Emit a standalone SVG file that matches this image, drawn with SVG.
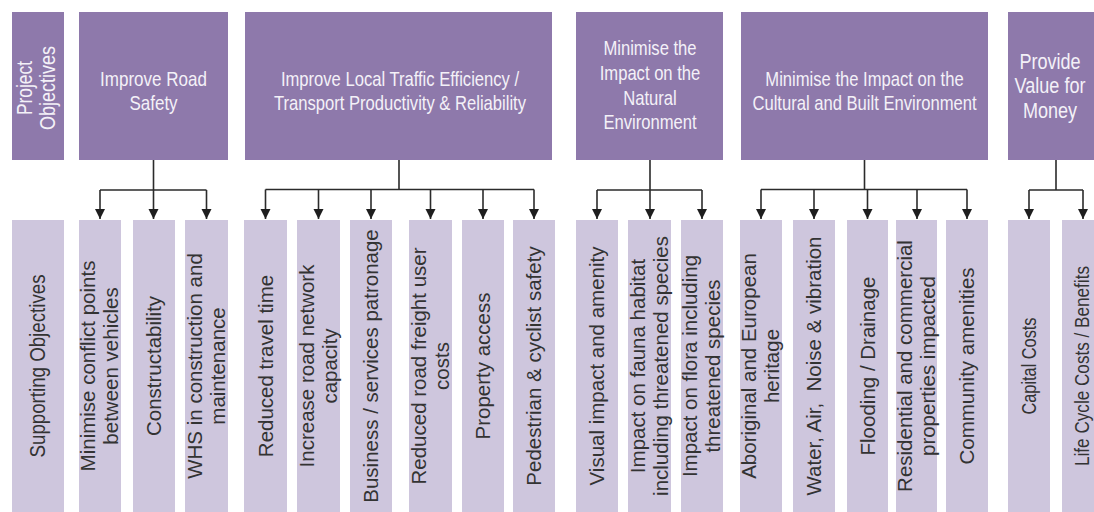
<svg xmlns="http://www.w3.org/2000/svg" width="1094" height="512" viewBox="0 0 1094 512">
  <defs>
    <style>
      .obj { fill: #8E79AB; }
      .sup { fill: #CEC6DD; }
      .t-obj { font-family: "Liberation Sans", Arial, sans-serif; font-size: 20.5px; fill: #F4F1F8; text-anchor: middle; }
      .t-big { font-size: 21.5px; }
      .t-sup { font-family: "Liberation Sans", Arial, sans-serif; font-size: 20.5px; fill: #333333; text-anchor: middle; }
      .t-head { font-size: 22px; }
      .wire { fill: none; stroke: #2B2B2B; stroke-width: 1.6; }
      .pre { white-space: pre; }
    </style>
    <marker id="head" viewBox="0 0 10 10" refX="10" refY="5" markerWidth="10" markerHeight="12" markerUnits="userSpaceOnUse" orient="auto">
      <path d="M0,0 L10,5 L0,10 Z" fill="#1E1E1E"/>
    </marker>
  </defs>

  <rect width="1094" height="512" fill="#FFFFFF"/>

  <!-- project objectives (top row) -->
  <g id="project-objectives">
    <rect class="obj" x="12" y="12" width="52" height="148"/>
    <text class="t-obj t-head" transform="translate(32 88) rotate(-90)" textLength="54" lengthAdjust="spacingAndGlyphs">Project</text>
    <text class="t-obj t-head" transform="translate(55 88) rotate(-90)" textLength="84" lengthAdjust="spacingAndGlyphs">Objectives</text>
  </g>

  <g id="road-safety">
    <rect class="obj" x="79" y="12" width="149" height="148"/>
    <text class="t-obj" transform="translate(153.5 85.7) scale(.83 1)">Improve Road</text>
    <text class="t-obj" transform="translate(153.5 110) scale(.83 1)">Safety</text>
  </g>

  <g id="traffic-efficiency">
    <rect class="obj" x="245" y="12" width="307" height="148"/>
    <text class="t-obj" transform="translate(400 85.7) scale(.81 1)">Improve Local Traffic Efficiency /</text>
    <text class="t-obj" transform="translate(400 110) scale(.81 1)">Transport Productivity &amp; Reliability</text>
  </g>

  <g id="natural-environment">
    <rect class="obj" x="576" y="12" width="147" height="148"/>
    <text class="t-obj" transform="translate(650 55) scale(.81 1)">Minimise the</text>
    <text class="t-obj" transform="translate(650 80) scale(.81 1)">Impact on the</text>
    <text class="t-obj" transform="translate(650 105) scale(.81 1)">Natural</text>
    <text class="t-obj" transform="translate(650 129) scale(.81 1)">Environment</text>
  </g>

  <g id="built-environment">
    <rect class="obj" x="741" y="12" width="247" height="148"/>
    <text class="t-obj" transform="translate(864.5 85.7) scale(.81 1)">Minimise the Impact on the</text>
    <text class="t-obj" transform="translate(864.5 110) scale(.81 1)">Cultural and Built Environment</text>
  </g>

  <g id="value-for-money">
    <rect class="obj" x="1008" y="12" width="96" height="148"/>
    <text class="t-obj t-big" transform="translate(1050 68.5) scale(.84 1)">Provide</text>
    <text class="t-obj t-big" transform="translate(1050 93) scale(.84 1)">Value for</text>
    <text class="t-obj t-big" transform="translate(1050 117.5) scale(.84 1)">Money</text>
  </g>

  <!-- supporting objectives (bottom row) -->
  <g id="supporting-objectives">
    <rect class="sup" x="12" y="220" width="52" height="292"/>
    <text class="t-sup t-head" transform="translate(45 366) rotate(-90)" textLength="183" lengthAdjust="spacingAndGlyphs">Supporting Objectives</text>
  </g>

  <g id="conflict-points">
    <rect class="sup" x="79" y="220" width="42" height="292"/>
    <text class="t-sup" transform="translate(95 366) rotate(-90)"><tspan x="0" y="0">Minimise conflict points</tspan><tspan x="0" y="23">between vehicles</tspan></text>
  </g>

  <g id="constructability">
    <rect class="sup" x="133" y="220" width="42" height="292"/>
    <text class="t-sup" transform="translate(161 366) rotate(-90)">Constructability</text>
  </g>

  <g id="whs">
    <rect class="sup" x="185" y="220" width="43" height="292"/>
    <text class="t-sup" transform="translate(201.5 366) rotate(-90)"><tspan x="0" y="0">WHS in construction and</tspan><tspan x="0" y="23">maintenance</tspan></text>
  </g>

  <g id="travel-time">
    <rect class="sup" x="244" y="220" width="43" height="292"/>
    <text class="t-sup" transform="translate(273 366) rotate(-90)">Reduced travel time</text>
  </g>

  <g id="network-capacity">
    <rect class="sup" x="297" y="220" width="43" height="292"/>
    <text class="t-sup" transform="translate(313.5 366) rotate(-90)"><tspan x="0" y="0">Increase road network</tspan><tspan x="0" y="23">capacity</tspan></text>
  </g>

  <g id="patronage">
    <rect class="sup" x="350" y="220" width="42" height="292"/>
    <text class="t-sup" transform="translate(378 366) rotate(-90)">Business / services patronage</text>
  </g>

  <g id="freight-costs">
    <rect class="sup" x="409" y="220" width="43" height="292"/>
    <text class="t-sup" transform="translate(425.5 366) rotate(-90)"><tspan x="0" y="0">Reduced road freight user</tspan><tspan x="0" y="23">costs</tspan></text>
  </g>

  <g id="property-access">
    <rect class="sup" x="462" y="220" width="42" height="292"/>
    <text class="t-sup" transform="translate(490 366) rotate(-90)">Property access</text>
  </g>

  <g id="pedestrian-safety">
    <rect class="sup" x="513" y="220" width="42" height="292"/>
    <text class="t-sup" transform="translate(541 366) rotate(-90)">Pedestrian &amp; cyclist safety</text>
  </g>

  <g id="visual-amenity">
    <rect class="sup" x="576" y="220" width="42" height="292"/>
    <text class="t-sup" transform="translate(604 366) rotate(-90)">Visual impact and amenity</text>
  </g>

  <g id="fauna-habitat">
    <rect class="sup" x="628" y="220" width="43" height="292"/>
    <text class="t-sup" transform="translate(644.5 366) rotate(-90)"><tspan x="0" y="0">Impact on fauna habitat</tspan><tspan x="0" y="23">including threatened species</tspan></text>
  </g>

  <g id="flora">
    <rect class="sup" x="681" y="220" width="42" height="292"/>
    <text class="t-sup" transform="translate(697 366) rotate(-90)"><tspan x="0" y="0">Impact on flora including</tspan><tspan x="0" y="23">threatened species</tspan></text>
  </g>

  <g id="heritage">
    <rect class="sup" x="740" y="220" width="42" height="292"/>
    <text class="t-sup" transform="translate(756 366) rotate(-90)"><tspan x="0" y="0">Aboriginal and European</tspan><tspan x="0" y="23">heritage</tspan></text>
  </g>

  <g id="water-air-noise">
    <rect class="sup" x="793" y="220" width="42" height="292"/>
    <text class="t-sup pre" transform="translate(821 366) rotate(-90)">Water, Air,  Noise &amp; vibration</text>
  </g>

  <g id="flooding">
    <rect class="sup" x="847" y="220" width="41" height="292"/>
    <text class="t-sup" transform="translate(874.5 366) rotate(-90)">Flooding / Drainage</text>
  </g>

  <g id="properties-impacted">
    <rect class="sup" x="896" y="220" width="41" height="292"/>
    <text class="t-sup" transform="translate(912 366) rotate(-90)"><tspan x="0" y="0">Residential and commercial</tspan><tspan x="0" y="23">properties impacted</tspan></text>
  </g>

  <g id="community-amenities">
    <rect class="sup" x="946" y="220" width="42" height="292"/>
    <text class="t-sup" transform="translate(974 366) rotate(-90)">Community amenities</text>
  </g>

  <g id="capital-costs">
    <rect class="sup" x="1008" y="220" width="42" height="292"/>
    <text class="t-sup" transform="translate(1036 366) rotate(-90)" textLength="97" lengthAdjust="spacingAndGlyphs">Capital Costs</text>
  </g>

  <g id="life-cycle-costs">
    <rect class="sup" x="1062" y="220" width="42" height="292"/>
    <text class="t-sup" transform="translate(1088.5 366) rotate(-90)" textLength="200" lengthAdjust="spacingAndGlyphs">Life Cycle Costs / Benefits</text>
  </g>

  <!-- connectors: trunk from each objective, a bus line, then a drop to each child -->
  <g id="connectors" class="wire">
    <path d="M153.5,160 V190 M100,190 H206.5"/>
    <path d="M100,190 V219" marker-end="url(#head)"/>
    <path d="M153.5,190 V219" marker-end="url(#head)"/>
    <path d="M206.5,190 V219" marker-end="url(#head)"/>

    <path d="M399,160 V189.5 M265.5,189.5 H534"/>
    <path d="M265.5,189.5 V219" marker-end="url(#head)"/>
    <path d="M318.5,189.5 V219" marker-end="url(#head)"/>
    <path d="M371,189.5 V219" marker-end="url(#head)"/>
    <path d="M430.5,189.5 V219" marker-end="url(#head)"/>
    <path d="M483,189.5 V219" marker-end="url(#head)"/>
    <path d="M534,189.5 V219" marker-end="url(#head)"/>

    <path d="M650,160 V190 M597,190 H702"/>
    <path d="M597,190 V219" marker-end="url(#head)"/>
    <path d="M650,190 V219" marker-end="url(#head)"/>
    <path d="M702,190 V219" marker-end="url(#head)"/>

    <path d="M864.5,160 V189.5 M761,189.5 H967"/>
    <path d="M761,189.5 V219" marker-end="url(#head)"/>
    <path d="M814,189.5 V219" marker-end="url(#head)"/>
    <path d="M867.5,189.5 V219" marker-end="url(#head)"/>
    <path d="M917,189.5 V219" marker-end="url(#head)"/>
    <path d="M967,189.5 V219" marker-end="url(#head)"/>

    <path d="M1056,160 V190 M1029,190 H1083"/>
    <path d="M1029,190 V219" marker-end="url(#head)"/>
    <path d="M1083,190 V219" marker-end="url(#head)"/>
  </g>
</svg>
